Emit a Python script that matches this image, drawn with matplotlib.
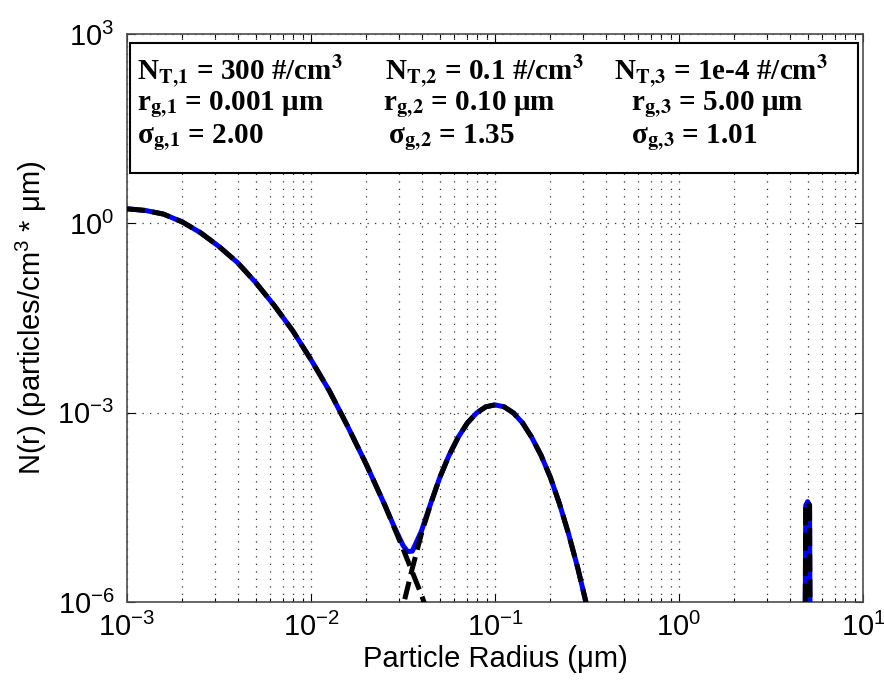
import matplotlib
matplotlib.use("Agg")
import matplotlib.pyplot as plt
from matplotlib.patches import Rectangle
from matplotlib.ticker import LogLocator, NullLocator

# --- Fonts ---
plt.rcParams['font.family'] = 'Liberation Sans'
plt.rcParams['mathtext.fontset'] = 'custom'
plt.rcParams['mathtext.rm'] = 'Liberation Sans'
plt.rcParams['mathtext.it'] = 'Liberation Sans:italic'
plt.rcParams['mathtext.bf'] = 'Liberation Sans:bold'

# --- Mode 1 ---
mode1_r = [0.001, 0.00126, 0.00158, 0.002, 0.00251, 0.00316, 0.00398, 0.00501, 0.00631,
           0.00794, 0.01, 0.0126, 0.0158, 0.02, 0.0251, 0.0316, 0.0398, 0.0501]
mode1_n = [1.7, 1.6, 1.4, 1.05, 0.71, 0.43, 0.24, 0.115, 0.050,
           0.020, 0.0069, 0.0022, 6.1e-4, 1.5e-4, 3.5e-5, 7.0e-6, 1.3e-6, 2.0e-7]

# --- Mode 2 ---
mode2_r = [0.0282, 0.0316, 0.0355, 0.0398, 0.0447, 0.0501, 0.0562, 0.0631, 0.0708, 0.0794,
           0.0891, 0.1, 0.112, 0.126, 0.141, 0.158, 0.178, 0.2, 0.224, 0.251, 0.282, 0.316, 0.355]
mode2_n = [1.8e-7, 8.5e-7, 3.4e-6, 1.2e-5, 3.6e-5, 9.4e-5, 2.1e-4, 4.1e-4, 6.9e-4, 9.9e-4,
           1.24e-3, 1.33e-3, 1.24e-3, 9.9e-4, 6.9e-4, 4.1e-4, 2.1e-4, 9.4e-5, 3.6e-5, 1.2e-5,
           3.4e-6, 8.5e-7, 1.8e-7]

# --- Mode 3 (narrow spike at 5 um) ---
mode3_r = [4.84, 4.86, 4.88, 5.0, 5.12, 5.14, 5.16]
mode3_n = [4e-7, 2e-6, 3.4e-5, 3.9e-5, 3.4e-5, 2e-6, 4e-7]

# --- Total distribution (blue line) ---
total_r = [0.001, 0.00126, 0.00158, 0.002, 0.00251, 0.00316, 0.00398, 0.00501, 0.00631,
           0.00794, 0.01, 0.0126, 0.0158, 0.02, 0.0251, 0.0282, 0.0316, 0.0335, 0.0355,
           0.0398, 0.0447, 0.0501, 0.0562, 0.0631, 0.0708, 0.0794, 0.0891, 0.1, 0.112,
           0.126, 0.141, 0.158, 0.178, 0.2, 0.224, 0.251, 0.282, 0.316, 0.355,
           4.84, 4.86, 4.88, 5.0, 5.12, 5.14, 5.16]
total_n = [1.7, 1.6, 1.4, 1.05, 0.71, 0.43, 0.24, 0.115, 0.050,
           0.020, 0.0069, 0.0022, 6.1e-4, 1.5e-4, 3.5e-5, 1.6e-5, 7.9e-6, 6.3e-6, 6.4e-6,
           1.33e-5, 3.65e-5, 9.4e-5, 2.1e-4, 4.1e-4, 6.9e-4, 9.9e-4, 1.24e-3, 1.33e-3, 1.24e-3,
           9.9e-4, 6.9e-4, 4.1e-4, 2.1e-4, 9.4e-5, 3.6e-5, 1.2e-5, 3.4e-6, 8.5e-7, 1.8e-7,
           4e-7, 2e-6, 3.4e-5, 3.9e-5, 3.4e-5, 2e-6, 4e-7]

# --- Annotation values ---
nt_vals = ['300', '0.1', '1e-4']
rg_vals = ['0.001', '0.10', '5.00']
sg_vals = ['2.00', '1.35', '1.01']

fig = plt.figure(figsize=(8.84, 6.9), dpi=100)
ax = fig.add_axes([0.1437, 0.1275, 0.8326, 0.8232])

LW = 3.6
ax.plot(total_r, total_n, color='#0000ff', lw=LW, solid_capstyle='butt',
        solid_joinstyle='round', zorder=3)
for r, n in [(mode1_r, mode1_n), (mode2_r, mode2_n), (mode3_r, mode3_n)]:
    ax.plot(r, n, color='black', lw=LW, dashes=(3.6, 1.5), dash_capstyle='butt',
            dash_joinstyle='round', zorder=4)

ax.set_xscale('log')
ax.set_yscale('log')
ax.set_xlim(1e-3, 10)
ax.set_ylim(1e-6, 1e3)
ax.set_yticks([1e-6, 1e-3, 1e0, 1e3])
ax.yaxis.set_minor_locator(NullLocator())
ax.xaxis.set_minor_locator(LogLocator(base=10, subs=range(2, 10), numticks=20))

ax.grid(True, which='major', axis='both', color='0.2', lw=0.9, linestyle=(0, (1, 5)))
ax.grid(True, which='minor', axis='x', color='0.2', lw=0.9, linestyle=(0, (1, 5)))
ax.tick_params(which='both', direction='in', top=True, right=True, labelsize=21)
ax.tick_params(which='major', length=6, width=0.8)
ax.tick_params(which='minor', length=3, width=0.8)
ax.tick_params(axis='x', pad=8)
ax.tick_params(axis='y', pad=9)
for s in ax.spines.values():
    s.set_linewidth(1.2)
    s.set_color('0.3')

ax.set_xlabel('Particle Radius (μm)', fontsize=21, labelpad=2)
ax.set_ylabel('N(r) (particles/cm$^3$ * μm)', fontsize=21, labelpad=6)

# --- Parameter box ---
ax.add_patch(Rectangle((0.004, 0.755), 0.989, 0.229, transform=ax.transAxes,
                       facecolor='white', edgecolor='black', lw=1.5, zorder=5))

col_x = [[0.013, 0.35, 0.662], [0.014, 0.348, 0.685], [0.014, 0.355, 0.685]]
row_y = [0.934, 0.876, 0.818]
rows = [
    [r'N$_{\mathbf{T,\!%d}}$ = %s #/cm$^{\mathbf{3}}$' % (i + 1, v) for i, v in enumerate(nt_vals)],
    [r'r$_{\mathbf{g,\!%d}}$ = %s μm' % (i + 1, v) for i, v in enumerate(rg_vals)],
    [r'σ$_{\mathbf{g,\!%d}}$ = %s' % (i + 1, v) for i, v in enumerate(sg_vals)],
]
for j, row in enumerate(rows):
    for i, txt in enumerate(row):
        ax.text(col_x[j][i], row_y[j], txt, transform=ax.transAxes, ha='left', va='center',
                fontsize=21, fontfamily='Liberation Serif', fontweight='bold',
                math_fontfamily='stix', zorder=6)

plt.savefig('out.png', dpi=100)
